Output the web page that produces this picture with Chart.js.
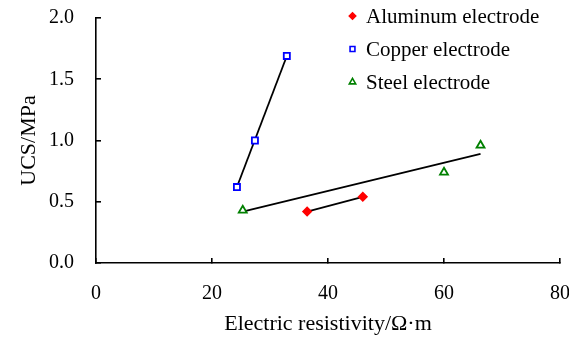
<!DOCTYPE html>
<html>
<head>
<meta charset="utf-8">
<script src="https://cdn.jsdelivr.net/npm/chart.js@4/dist/chart.umd.min.js"></script>
<style>
  html, body { margin: 0; padding: 0; background: #fff; }
  #wrap { width: 569px; height: 337px; position: relative; }
</style>
</head>
<body>
<div id="wrap"><canvas id="c"></canvas></div>
<script>
// ---- data ----
const seriesNames = ['Aluminum electrode', 'Copper electrode', 'Steel electrode'];
const aluminumX = [36.4, 46.0];
const aluminumY = [0.42, 0.54];
const copperX = [24.3, 27.4, 32.9];
const copperY = [0.62, 1.00, 1.69];
const steelX = [25.3, 60.0, 66.3];
const steelY = [0.43, 0.74, 0.96];
// trend line end points (as drawn in the reference)
const aluminumTrendX = [36.4, 46.0];
const aluminumTrendY = [0.42, 0.54];
const copperTrendX = [24.3, 32.9];
const copperTrendY = [0.62, 1.69];
const steelTrendX = [25.3, 66.3];
const steelTrendY = [0.42, 0.89];
const xTicks = [0, 20, 40, 60, 80];
const yTicks = [0.0, 0.5, 1.0, 1.5, 2.0];
const xTitle = 'Electric resistivity/Ω·m';
const yTitle = 'UCS/MPa';

const pts = (xs, ys) => xs.map((x, i) => ({x: x, y: ys[i]}));
const FONT = "'Liberation Serif', 'Times New Roman', serif";

const markerStyles = [
  {pointStyle: 'rectRot', radius: 4, border: '#FF0000', fill: '#FF0000'},
  {pointStyle: 'rect', radius: 4.3, border: '#0000FF', fill: '#FFFFFF'},
  {pointStyle: 'triangle', radius: 4.6, border: '#008000', fill: '#FFFFFF'}
];

function markerDataset(i, data) {
  const m = markerStyles[i];
  return {
    label: seriesNames[i], data: data, showLine: false, order: 1,
    pointStyle: m.pointStyle, pointRadius: m.radius, pointHoverRadius: m.radius,
    pointBorderColor: m.border, pointBackgroundColor: m.fill, pointBorderWidth: 1.8,
    isMarker: true
  };
}
function trendDataset(data) {
  return {
    label: '', data: data, showLine: true, order: 2, pointRadius: 0,
    borderColor: '#000', borderWidth: 1.8, fill: false, isMarker: false
  };
}

const legendPlugin = {
  id: 'customLegend',
  afterDraw(chart) {
    const ctx = chart.ctx;
    const rows = [16, 49, 82];
    ctx.save();
    chart.data.datasets.filter(d => d.isMarker).forEach((d, i) => {
      const m = markerStyles[i];
      ctx.fillStyle = m.fill;
      ctx.strokeStyle = m.border;
      ctx.lineWidth = 1.6;
      Chart.helpers.drawPoint(ctx, {pointStyle: m.pointStyle, radius: m.radius * 0.8, borderWidth: 1.6}, 352.5, rows[i]);
      ctx.fillStyle = '#000';
      ctx.font = '21px ' + FONT;
      ctx.textBaseline = 'middle';
      ctx.textAlign = 'left';
      ctx.fillText(d.label, 366, rows[i] + 1);
    });
    ctx.restore();
  }
};

new Chart(document.getElementById('c'), {
  type: 'scatter',
  data: {
    datasets: [
      trendDataset(pts(aluminumTrendX, aluminumTrendY)),
      trendDataset(pts(copperTrendX, copperTrendY)),
      trendDataset(pts(steelTrendX, steelTrendY)),
      markerDataset(0, pts(aluminumX, aluminumY)),
      markerDataset(1, pts(copperX, copperY)),
      markerDataset(2, pts(steelX, steelY))
    ]
  },
  options: {
    responsive: true,
    maintainAspectRatio: false,
    animation: false,
    layout: { padding: { top: 18, right: 9, left: 0, bottom: 0 } },
    plugins: { legend: { display: false }, tooltip: { enabled: false } },
    scales: {
      x: {
        type: 'linear', min: xTicks[0], max: xTicks[xTicks.length - 1],
        afterBuildTicks: s => { s.ticks = xTicks.map(v => ({value: v})); },
        afterFit: s => { s.height = 74; s.paddingLeft = 0; s.paddingRight = 0; },
        border: { display: true, color: '#000', width: 1.6 },
        grid: { drawOnChartArea: false, drawTicks: true, tickLength: -5, color: '#000', lineWidth: 1.6 },
        ticks: { color: '#000', font: { family: FONT, size: 20 }, padding: 24, maxRotation: 0, callback: v => String(v) },
        title: { display: true, text: xTitle, color: '#000', font: { family: FONT, size: 22 }, padding: { top: 0, bottom: 0 } }
      },
      y: {
        type: 'linear', min: yTicks[0], max: yTicks[yTicks.length - 1],
        afterBuildTicks: s => { s.ticks = yTicks.map(v => ({value: v})); },
        afterFit: s => { s.width = 96; s.paddingTop = 0; s.paddingBottom = 0; },
        border: { display: true, color: '#000', width: 1.6 },
        grid: { drawOnChartArea: false, drawTicks: true, tickLength: -5, color: '#000', lineWidth: 1.6 },
        ticks: { color: '#000', font: { family: FONT, size: 20 }, padding: 27, callback: v => Number(v).toFixed(1) },
        title: { display: true, text: yTitle, color: '#000', font: { family: FONT, size: 22 }, padding: { top: 16, bottom: 0 } }
      }
    }
  },
  plugins: [legendPlugin]
});
</script>
</body>
</html>
